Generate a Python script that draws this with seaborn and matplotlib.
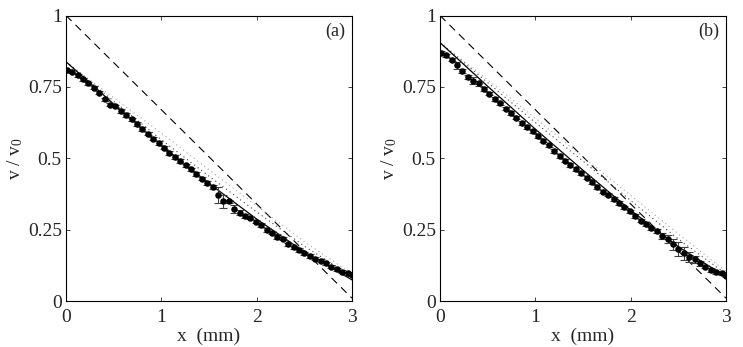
import numpy as np
import pandas as pd
import matplotlib
matplotlib.use("Agg")
import matplotlib.pyplot as plt
import seaborn as sns

# ---------------- data ----------------
x_pts = [0.01, 0.067, 0.123, 0.18, 0.236, 0.293, 0.35, 0.406, 0.463, 0.519,
         0.576, 0.633, 0.689, 0.746, 0.802, 0.859, 0.916, 0.972, 1.029, 1.085,
         1.142, 1.199, 1.255, 1.312, 1.368, 1.425, 1.482, 1.538, 1.595, 1.651,
         1.708, 1.765, 1.821, 1.878, 1.934, 1.991, 2.048, 2.104, 2.161, 2.217,
         2.274, 2.331, 2.387, 2.444, 2.50, 2.557, 2.614, 2.67, 2.727, 2.783,
         2.84, 2.897, 2.953, 3.0]

v_a = [0.809, 0.803, 0.79, 0.777, 0.762, 0.747, 0.73, 0.707, 0.688, 0.683,
       0.666, 0.651, 0.636, 0.62, 0.602, 0.586, 0.569, 0.554, 0.537, 0.519,
       0.504, 0.49, 0.475, 0.461, 0.445, 0.429, 0.413, 0.40, 0.37, 0.349,
       0.349, 0.321, 0.309, 0.297, 0.292, 0.278, 0.266, 0.248, 0.239, 0.225,
       0.218, 0.198, 0.188, 0.178, 0.167, 0.157, 0.148, 0.141, 0.132, 0.12,
       0.111, 0.103, 0.097, 0.091]
err_a = [0.004, 0.005, 0.005, 0.005, 0.005, 0.005, 0.005, 0.005, 0.006, 0.005,
         0.006, 0.006, 0.006, 0.006, 0.006, 0.006, 0.006, 0.006, 0.006, 0.006,
         0.006, 0.006, 0.006, 0.006, 0.006, 0.006, 0.006, 0.006, 0.028, 0.022,
         0.006, 0.014, 0.008, 0.006, 0.006, 0.006, 0.006, 0.008, 0.006, 0.008,
         0.006, 0.006, 0.006, 0.006, 0.006, 0.006, 0.006, 0.006, 0.006, 0.006,
         0.006, 0.006, 0.006, 0.004]

v_b = [0.870, 0.860, 0.845, 0.825, 0.805, 0.785, 0.772, 0.762, 0.743, 0.726,
       0.708, 0.692, 0.674, 0.658, 0.642, 0.624, 0.609, 0.594, 0.578, 0.562,
       0.545, 0.526, 0.508, 0.492, 0.477, 0.462, 0.447, 0.432, 0.417, 0.399,
       0.383, 0.373, 0.357, 0.344, 0.328, 0.314, 0.298, 0.281, 0.270, 0.254,
       0.245, 0.228, 0.216, 0.198, 0.181, 0.167, 0.155, 0.146, 0.132, 0.120,
       0.108, 0.100, 0.097, 0.088]
err_b = [0.006, 0.006, 0.006, 0.012, 0.008, 0.006, 0.012, 0.010, 0.006, 0.006,
         0.006, 0.006, 0.006, 0.006, 0.006, 0.006, 0.006, 0.006, 0.006, 0.006,
         0.006, 0.006, 0.006, 0.006, 0.006, 0.006, 0.006, 0.006, 0.006, 0.006,
         0.006, 0.006, 0.006, 0.006, 0.006, 0.006, 0.006, 0.006, 0.006, 0.006,
         0.006, 0.010, 0.014, 0.018, 0.024, 0.022, 0.018, 0.012, 0.008, 0.006,
         0.006, 0.006, 0.006, 0.004]

# model curves (key points)
x_curve = [0.0, 0.5, 1.0, 1.5, 2.0, 2.5, 3.0]
solid_a = [0.838, 0.690, 0.545, 0.412, 0.287, 0.172, 0.074]
dot_dark_a = [0.838, 0.700, 0.565, 0.437, 0.312, 0.192, 0.086]
dot_light_a = [0.838, 0.712, 0.588, 0.460, 0.333, 0.208, 0.095]
solid_b = [0.905, 0.752, 0.602, 0.458, 0.318, 0.190, 0.085]
dot_dark_b = [0.905, 0.765, 0.625, 0.490, 0.352, 0.217, 0.095]
dot_light_b = [0.905, 0.775, 0.640, 0.505, 0.370, 0.235, 0.104]
x_dash = [0.0, 3.0]
dash_v = [1.0, 0.01]

x_ticks = [0, 1, 2, 3]
y_ticks = [0, 0.25, 0.5, 0.75, 1]
y_ticklabels = ["0", "0.25", "0.5", "0.75", "1"]
panel_labels = ["(a)", "(b)"]

# ---------------- plot ----------------
sns.set_style("ticks")
plt.rcParams["font.family"] = ["Liberation Serif", "DejaVu Serif"]
plt.rcParams["mathtext.fontset"] = "custom"
plt.rcParams["mathtext.rm"] = "Liberation Serif"
plt.rcParams["mathtext.it"] = "Liberation Serif"

fig = plt.figure(figsize=(7.43, 3.47), dpi=100)
ax_a = fig.add_axes([66 / 743, 46 / 347, 286 / 743, 285.5 / 347])
ax_b = fig.add_axes([440 / 743, 46 / 347, 286 / 743, 285.5 / 347])

panels = [
    (ax_a, v_a, err_a, solid_a, dot_dark_a, dot_light_a, panel_labels[0]),
    (ax_b, v_b, err_b, solid_b, dot_dark_b, dot_light_b, panel_labels[1]),
]

for ax, v, err, s, dd, dl, lab in panels:
    sns.lineplot(x=x_dash, y=dash_v, ax=ax, color="black", lw=0.8,
                 linestyle=(0, (7, 5)))
    sns.lineplot(x=x_curve, y=dl, ax=ax, color="#a8a8a8", lw=0.8,
                 linestyle=(0, (1, 3)))
    sns.lineplot(x=x_curve, y=dd, ax=ax, color="#404040", lw=0.8,
                 linestyle=(0, (1, 3)))
    sns.lineplot(x=x_curve, y=s, ax=ax, color="black", lw=0.9)
    ax.errorbar(x_pts, v, yerr=err, fmt="none", ecolor="#404040",
                elinewidth=0.8, capsize=3, capthick=0.8)
    df = pd.DataFrame({"x": x_pts, "v": v})
    sns.scatterplot(data=df, x="x", y="v", ax=ax, color="black", s=22,
                    edgecolor="black", linewidth=0, zorder=5)

    ax.set_xlim(0, 3)
    ax.set_ylim(0, 1)
    ax.set_xticks(x_ticks)
    ax.set_xticklabels([str(t) for t in x_ticks])
    ax.set_yticks(y_ticks)
    ax.set_yticklabels(y_ticklabels)
    ax.tick_params(direction="in", top=True, right=True, length=3,
                   width=0.6, labelsize=14)
    ax.tick_params(axis="x", pad=6)
    ax.tick_params(axis="y", pad=3)
    for sp in ax.spines.values():
        sp.set_visible(True)
        sp.set_linewidth(0.8)
        sp.set_color("black")
    ax.set_xlabel("x  (mm)", fontsize=14, labelpad=1)
    ax.set_ylabel(r"v / v$_0$", fontsize=14, labelpad=2)
    ax.text(0.975, 0.975, lab, transform=ax.transAxes, ha="right", va="top",
            fontsize=13)

fig.savefig("out.png", dpi=100)
